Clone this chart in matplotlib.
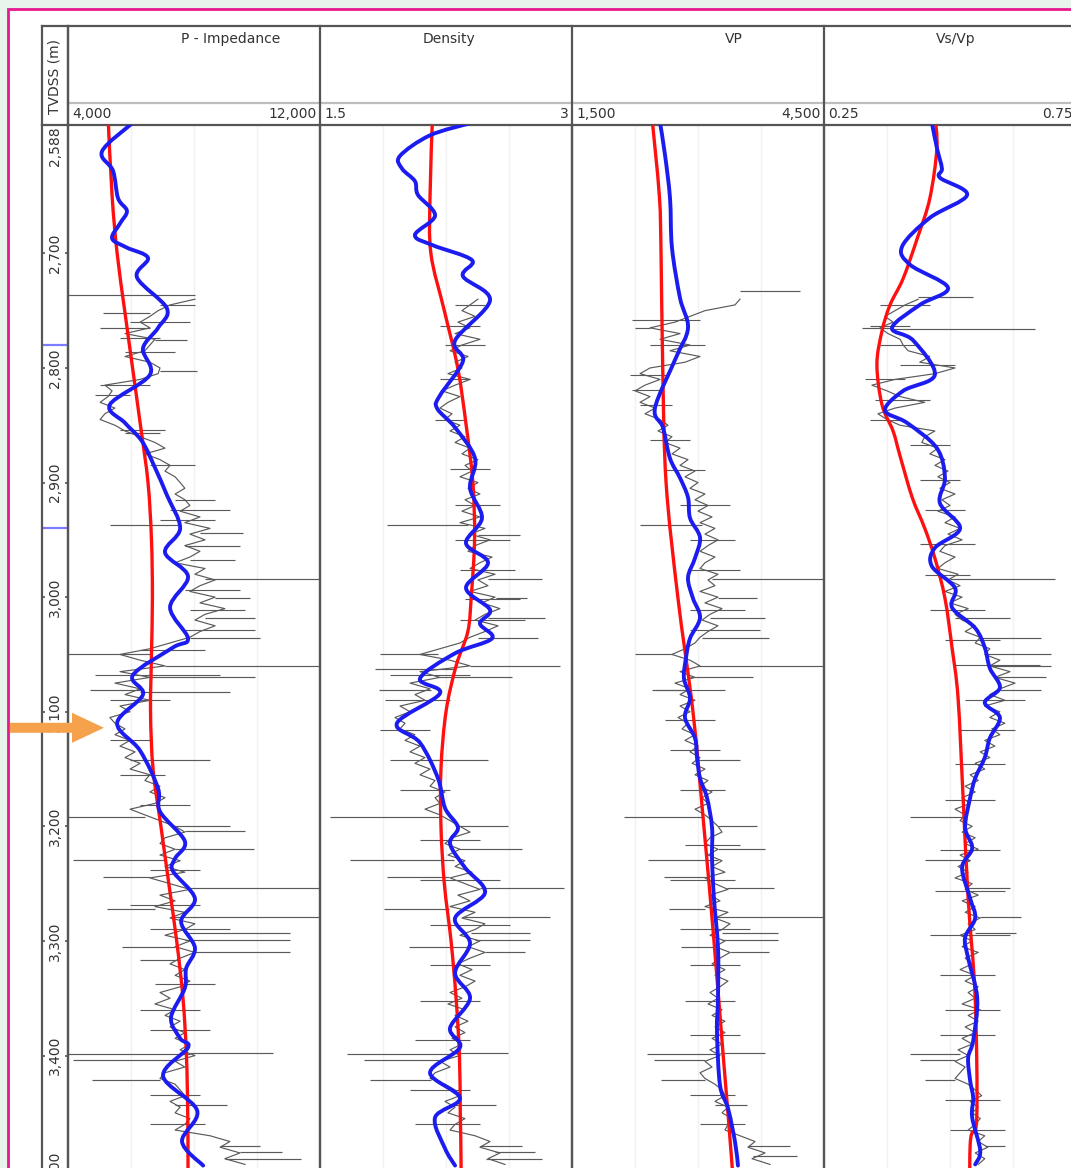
import numpy as np
import matplotlib
matplotlib.use("Agg")
import matplotlib.pyplot as plt
from matplotlib.patches import Rectangle, Polygon, PathPatch
from matplotlib.path import Path
from matplotlib.lines import Line2D

# ---------------- data ----------------
track_names = ["P - Impedance", "Density", "VP", "Vs/Vp"]
track_min = [4000, 1.5, 1500, 0.25]
track_max = [12000, 3.0, 4500, 0.75]
track_min_lbl = ["4,000", "1.5", "1,500", "0.25"]
track_max_lbl = ["12,000", "3", "4,500", "0.75"]
depth_ticks = [2700, 2800, 2900, 3000, 3100, 3200, 3300, 3400, 3500]
depth_tick_lbl = ["2,700", "2,800", "2,900", "3,000", "3,100", "3,200", "3,300", "3,400", "3,500"]
top_depth = 2588
marker_depths = [2780, 2940]
arrow_depth = 3114

gray_start, gray_step = 2740, 5

# P-impedance
pimp_gray = [8030,7240,6860,6600,6290,6600,5810,6760,6600,6440,5810,6600,
             6920,6860,6290,5170,5400,5270,5020,5490,5170,5020,5490,5810,
             6290,6760,7080,6440,6920,7240,7080,7400,7560,7710,7400,7710,
             7870,7560,8190,7710,8510,7870,8350,7710,8190,7870,7400,8350,
             8030,8670,8190,7870,8670,8190,8980,8350,8030,8670,8190,7870,
             7240,6600,5650,6290,7080,5650,6600,5490,6290,5810,6600,5650,
             5970,5330,5490,5810,5490,5970,5650,6130,5810,6290,5970,6600,
             6440,6920,6600,7080,6760,5970,6440,6920,7400,7710,7080,6920,
             7400,6920,7560,7080,7710,6600,7240,7870,6920,7400,6760,7710,
             7240,8030,7710,7080,7870,7400,8030,7560,7240,7710,7400,7870,
             7560,6920,7240,6760,7400,7080,7560,7240,7710,7400,7870,7560,
             8030,7400,7710,7080,6920,7400,7560,7710,7240,7560,7400,7870,
             7710,7400,8510,9140,8830,9460,8980,9620]
pimp_spk_d = [2736,2752,2765,2776,2803,2857,2937,2944,2955,2984,3001,3018,3036,3050,3060,3070,
              3081,3083,3142,3192,3200,3204,3220,3229,3244,3254,3272,3279,3293,3299,3305,3310,
              3317,3398,3399,3404,3421,3443,3479,3484,3490]
pimp_spk_b = [8030,6600,6600,6760,6920,5810,7560,8190,7710,8350,8670,8350,7870,6600,7080,6600,
              6290,6290,5970,6440,7400,7710,7400,7080,6600,7870,6760,7240,7710,7710,7400,8030,
              7560,7870,7870,7400,6920,7400,8830,9460,8980]
pimp_spk_t = [4000,5110,5020,7780,8100,6920,5330,9560,9460,12000,9780,9940,10100,4000,12000,9940,
              4700,9140,8510,4000,9140,9620,9900,4160,5110,12000,5250,12000,11050,11050,5730,11050,
              6290,10500,4000,4160,4760,9050,10100,10800,11400]
pimp_dash_d = [2745,2760,2774,2786,2815,2824,2854,2885,2915,2924,2933,2968,2994,3011,3029,
               3046,3068,3090,3125,3155,3181,3238,3269,3290,3338,3360,3378,3434,3460]
pimp_dash_l = [6920,5970,5650,5810,5020,4860,5650,6600,7400,7240,6920,7870,7710,7870,7710,
               6290,4860,5330,5330,5650,6290,6600,5970,6600,6760,6290,6600,6600,6600]
pimp_dash_r = [8030,7870,6920,7400,6600,5970,7080,8030,8670,9140,8670,9300,9460,9620,9940,
               8350,8830,7240,6600,7080,7870,8190,8190,9140,8670,8190,8510,8190,8350]
pimp_red_d = [2580,2650,2700,2750,2800,2850,2900,2950,3000,3050,3100,3150,3200,3250,3300,3350,3400,3450,3500,3580]
pimp_red_v = [5270,5400,5560,5800,6050,6300,6540,6650,6680,6650,6620,6700,6950,7200,7450,7650,7760,7800,7810,7810]
pimp_blue_d = [2586,2611,2628,2652,2663,2674,2687,2695,2704,2721,2748,2765,2783,2806,2832,2848,
               2864,2887,2911,2940,2961,2982,3009,3036,3044,3068,3085,3110,3134,3167,3187,3213,
               3228,3239,3263,3283,3306,3324,3341,3367,3385,3393,3418,3448,3475,3496]
pimp_blue_v = [6060,5080,5430,5590,5870,5650,5400,5870,6540,6190,7140,6860,6380,6600,5330,5810,
               6350,6760,7140,7560,7080,7810,7240,7810,7330,6060,6380,5560,6290,6860,6920,7710,
               7400,7330,8030,7590,8030,7750,7710,7270,7560,7810,7020,8100,7620,8290]

# Density
dens_gray = [2.440,2.393,2.345,2.423,2.321,2.393,2.304,2.452,2.345,2.274,2.381,2.304,
             2.345,2.262,2.393,2.304,2.226,2.333,2.262,2.214,2.286,2.244,2.333,2.274,
             2.363,2.304,2.393,2.345,2.440,2.363,2.405,2.333,2.440,2.381,2.452,2.363,
             2.423,2.345,2.452,2.333,2.482,2.393,2.512,2.423,2.381,2.524,2.452,2.393,
             2.542,2.440,2.500,2.393,2.542,2.464,2.571,2.482,2.423,2.560,2.482,2.393,
             2.333,2.214,2.095,2.274,2.393,2.095,2.214,2.036,2.155,2.065,2.125,1.976,
             2.036,1.946,2.006,1.976,2.065,2.006,2.095,2.036,2.125,2.065,2.155,2.095,
             2.185,2.155,2.244,2.185,2.214,2.125,2.214,2.274,2.333,2.393,2.286,2.244,
             2.333,2.262,2.363,2.304,2.405,2.274,2.363,2.452,2.321,2.393,2.274,2.423,
             2.345,2.482,2.423,2.333,2.452,2.381,2.482,2.393,2.321,2.405,2.333,2.423,
             2.363,2.274,2.345,2.262,2.363,2.304,2.381,2.304,2.363,2.286,2.345,2.274,
             2.333,2.214,2.274,2.185,2.155,2.244,2.304,2.333,2.244,2.304,2.262,2.363,
             2.304,2.274,2.423,2.512,2.452,2.571,2.500,2.601]
dens_spk_d = [2937,2946,2984,3001,3018,3036,3050,3060,3063,3070,3081,3142,3192,3200,3220,3229,
              3244,3254,3272,3279,3293,3299,3305,3310,3398,3399,3404,3421,3443,3479,3484,3490]
dens_spk_b = [2.38,2.44,2.50,2.55,2.50,2.44,2.20,2.39,2.30,2.21,2.16,2.15,2.21,2.33,2.33,2.30,
              2.27,2.45,2.27,2.36,2.40,2.42,2.38,2.48,2.30,2.30,2.21,2.16,2.27,2.45,2.54,2.49]
dens_spk_t = [1.90,2.69,2.82,2.73,2.84,2.80,1.86,2.93,1.83,2.64,1.85,2.50,1.56,2.62,2.70,1.68,
              1.90,2.95,1.88,2.87,2.75,2.75,2.03,2.72,2.62,1.66,1.76,1.80,2.55,2.70,2.78,2.82]
dens_dash_d = [2745,2763,2780,2810,2845,2888,2920,2950,2976,3002,3020,3068,3090,3116,3142,
               3168,3212,3247,3286,3321,3352,3386,3430,3460]
dens_dash_l = [2.304,2.214,2.244,2.214,2.185,2.274,2.304,2.304,2.333,2.363,2.333,1.917,1.887,1.857,1.917,
               1.976,2.095,2.095,2.155,2.155,2.095,2.065,2.036,2.065]
dens_dash_r = [2.482,2.452,2.482,2.393,2.363,2.512,2.571,2.631,2.661,2.690,2.720,2.393,2.274,2.155,2.214,
               2.274,2.452,2.571,2.631,2.512,2.452,2.393,2.393,2.452]
dens_red_d = [2580,2650,2700,2750,2800,2850,2900,2950,3000,3030,3060,3100,3150,3200,3250,3300,3350,3400,3450,3500,3580]
dens_red_v = [2.17,2.155,2.16,2.24,2.32,2.37,2.41,2.42,2.40,2.38,2.31,2.25,2.22,2.22,2.24,2.28,2.31,2.33,2.335,2.34,2.34]
dens_blue_d = [2586,2597,2615,2626,2637,2649,2667,2684,2693,2706,2720,2741,2776,2794,2824,2835,
               2852,2879,2905,2931,2953,2970,2992,3011,3023,3036,3049,3071,3084,3110,3127,3158,
               3184,3201,3215,3236,3258,3280,3302,3328,3350,3376,3393,3415,3437,3454,3481,3496]
dens_blue_v = [2.405,2.155,1.976,1.988,2.065,2.083,2.185,2.065,2.173,2.405,2.351,2.512,2.304,2.351,2.214,2.196,
               2.304,2.423,2.393,2.464,2.369,2.500,2.369,2.512,2.452,2.524,2.304,2.095,2.214,1.958,2.095,2.202,
               2.244,2.321,2.274,2.363,2.482,2.304,2.393,2.304,2.393,2.274,2.333,2.155,2.333,2.185,2.244,2.304]

# VP
vp_gray = [3500,3440,3083,2905,2726,2429,2786,2548,2905,2667,3024,2845,
           2429,2310,2548,2369,2250,2429,2310,2488,2369,2548,2643,2524,
           2690,2607,2786,2690,2881,2786,2964,2845,3000,2905,3083,2964,
           3119,3000,3167,3024,3202,3083,3238,3119,3024,3202,3083,3024,
           3238,3119,3202,3024,3238,3083,3286,3143,3048,3238,3119,3024,
           2964,2845,2690,2905,3024,2786,2964,2726,2905,2786,2964,2786,
           2905,2762,2881,2810,2964,2845,3000,2905,3024,2929,3083,2964,
           3119,3024,3167,3048,3119,2964,3083,3167,3238,3286,3143,3083,
           3238,3119,3286,3167,3321,3083,3202,3357,3143,3262,3083,3357,
           3202,3381,3286,3143,3321,3202,3381,3262,3167,3321,3202,3357,
           3262,3143,3238,3119,3286,3167,3321,3202,3321,3167,3286,3143,
           3262,3083,3167,3024,3083,3202,3286,3321,3202,3357,3286,3405,
           3357,3321,3500,3679,3595,3798,3643,3857]
vp_spk_d = [2733,2765,2937,2984,3001,3018,3036,3050,3060,3070,3081,3142,3192,3200,3220,3229,
            3244,3254,3272,3279,3293,3299,3305,3310,3398,3399,3404,3421,3443,3479,3488]
vp_spk_b = [3500,2430,3050,3170,3240,3140,3050,2690,3000,2900,2900,3000,3050,3240,3240,3240,
            3080,3350,3080,3200,3290,3290,3200,3380,3260,3260,3080,3080,3200,3600,3650]
vp_spk_t = [4214,2250,2310,4500,3700,3800,3850,2250,4500,3650,2450,3500,2120,3700,3800,2400,
            2600,3900,2650,4500,3950,3950,2800,3850,3800,2390,2480,2560,3580,4100,4180]
vp_dash_d = [2758,2780,2806,2819,2832,2863,2889,2920,2950,2976,3011,3029,3081,3107,3133,
             3168,3216,3247,3290,3321,3352,3382,3434,3460]
vp_dash_l = [2214,2429,2190,2214,2310,2429,2607,2786,2905,2905,2905,2905,2488,2607,2667,
             2786,2845,2667,2786,2905,2845,2905,2905,3024]
vp_dash_r = [3024,3083,2643,2548,2690,2905,3083,3381,3440,3500,3560,3738,3321,3202,3262,
             3321,3500,3440,3619,3500,3440,3500,3440,3560]
vp_red_d = [2580,2650,2700,2800,2900,3000,3100,3200,3300,3400,3500,3580]
vp_red_v = [2450,2540,2560,2580,2620,2760,2940,3070,3190,3300,3410,3480]
vp_blue_d = [2586,2614,2652,2695,2739,2765,2791,2835,2852,2879,2896,2913,2931,2948,2966,2983,
             3001,3018,3036,3053,3071,3088,3105,3123,3140,3158,3175,3201,3228,3263,3306,3350,
             3379,3426,3446,3475,3496]
vp_blue_v = [2548,2607,2667,2690,2786,2881,2738,2488,2583,2667,2786,2881,2905,3024,2964,2881,
             2940,3024,2905,2857,2833,2905,2845,2964,2988,3024,3107,3167,3167,3190,3238,3238,
             3226,3262,3357,3440,3476]

# Vs/Vp
vsvp_gray = [0.437,0.411,0.391,0.371,0.387,0.361,0.377,0.401,0.407,0.417,0.460,0.440,
             0.510,0.470,0.391,0.345,0.375,0.401,0.450,0.391,0.357,0.375,0.401,0.470,
             0.450,0.444,0.476,0.460,0.490,0.470,0.496,0.476,0.500,0.480,0.510,0.484,
             0.500,0.476,0.510,0.490,0.520,0.496,0.524,0.490,0.480,0.510,0.490,0.476,
             0.516,0.496,0.520,0.490,0.524,0.500,0.536,0.510,0.524,0.550,0.530,0.560,
             0.550,0.579,0.569,0.599,0.579,0.619,0.589,0.629,0.599,0.579,0.609,0.569,
             0.599,0.579,0.609,0.583,0.599,0.569,0.589,0.560,0.579,0.550,0.569,0.540,
             0.556,0.530,0.550,0.524,0.540,0.510,0.530,0.520,0.544,0.524,0.550,0.530,
             0.556,0.520,0.540,0.516,0.536,0.510,0.544,0.530,0.556,0.524,0.550,0.530,
             0.560,0.536,0.550,0.520,0.544,0.524,0.556,0.530,0.544,0.520,0.550,0.530,
             0.556,0.536,0.550,0.524,0.560,0.536,0.556,0.530,0.550,0.524,0.544,0.516,
             0.536,0.510,0.530,0.520,0.510,0.536,0.550,0.563,0.540,0.556,0.544,0.560,
             0.550,0.536,0.569,0.556,0.575,0.550,0.569,0.556]
vsvp_spk_d = [2738,2765,2766,2984,3018,3036,3050,3060,3070,3081,3192,3229,3254,3279,3293,3399,3404,3421,3479]
vsvp_spk_b = [0.437,0.38,0.38,0.50,0.51,0.56,0.57,0.58,0.59,0.60,0.53,0.54,0.53,0.56,0.55,0.52,0.51,0.51,0.57]
vsvp_spk_t = [0.546,0.325,0.669,0.708,0.62,0.68,0.70,0.70,0.69,0.68,0.42,0.45,0.62,0.64,0.63,0.42,0.44,0.45,0.61]
vsvp_dash_d = [2745,2763,2780,2797,2810,2828,2845,2867,2898,2924,2954,2981,3011,3037,3059,
               3090,3116,3146,3177,3221,3256,3295,3330,3360,3382,3439,3465]
vsvp_dash_l = [0.361,0.341,0.361,0.401,0.331,0.351,0.341,0.421,0.440,0.450,0.440,0.450,0.460,0.490,0.510,
               0.530,0.520,0.510,0.490,0.480,0.470,0.460,0.480,0.490,0.480,0.490,0.500]
vsvp_dash_r = [0.460,0.421,0.431,0.510,0.411,0.460,0.411,0.500,0.520,0.530,0.550,0.540,0.569,0.599,0.679,
               0.649,0.629,0.609,0.589,0.599,0.609,0.619,0.589,0.599,0.589,0.599,0.609]
vsvp_red_d = [2580,2608,2652,2687,2722,2745,2768,2797,2832,2855,2877,2913,2940,2966,3001,3044,3088,3175,3263,3350,3455,3478,3580]
vsvp_red_v = [0.470,0.474,0.460,0.435,0.407,0.381,0.365,0.355,0.365,0.387,0.401,0.425,0.450,0.470,0.490,0.504,0.516,0.526,0.536,0.550,0.553,0.540,0.540]
vsvp_blue_d = [2586,2608,2626,2634,2649,2669,2694,2710,2730,2745,2765,2776,2806,2820,2837,2848,
               2870,2896,2918,2940,2957,2973,2992,3009,3027,3044,3062,3079,3092,3105,3123,3140,
               3158,3175,3201,3219,3236,3263,3280,3297,3315,3350,3387,3402,3422,3437,3454,3483,3495]
vsvp_blue_v = [0.464,0.474,0.484,0.480,0.534,0.460,0.405,0.421,0.496,0.440,0.385,0.427,0.470,0.407,0.371,0.415,
               0.474,0.490,0.480,0.520,0.470,0.464,0.510,0.504,0.550,0.569,0.579,0.599,0.569,0.599,0.579,0.569,
               0.550,0.540,0.530,0.544,0.524,0.540,0.550,0.530,0.536,0.554,0.546,0.536,0.540,0.546,0.544,0.560,0.550]

grays = [pimp_gray, dens_gray, vp_gray, vsvp_gray]
spikes = [(pimp_spk_d, pimp_spk_b, pimp_spk_t), (dens_spk_d, dens_spk_b, dens_spk_t),
          (vp_spk_d, vp_spk_b, vp_spk_t), (vsvp_spk_d, vsvp_spk_b, vsvp_spk_t)]
dashes = [(pimp_dash_d, pimp_dash_l, pimp_dash_r), (dens_dash_d, dens_dash_l, dens_dash_r),
          (vp_dash_d, vp_dash_l, vp_dash_r), (vsvp_dash_d, vsvp_dash_l, vsvp_dash_r)]
reds = [(pimp_red_d, pimp_red_v), (dens_red_d, dens_red_v), (vp_red_d, vp_red_v), (vsvp_red_d, vsvp_red_v)]
blues = [(pimp_blue_d, pimp_blue_v), (dens_blue_d, dens_blue_v), (vp_blue_d, vp_blue_v), (vsvp_blue_d, vsvp_blue_v)]


def smooth_path(xs, ys):
    """Smooth Bezier path passing through every read point."""
    P = np.column_stack([np.asarray(xs, float), np.asarray(ys, float)])
    n = len(P)
    verts = [P[0]]
    codes = [Path.MOVETO]
    for i in range(n - 1):
        p0 = P[i - 1] if i > 0 else P[i]
        p1, p2 = P[i], P[i + 1]
        p3 = P[i + 2] if i + 2 < n else P[i + 1]
        verts += [p1 + (p2 - p0) / 6.0, p2 - (p3 - p1) / 6.0, p2]
        codes += [Path.CURVE4] * 3
    return Path(verts, codes)


# ---------------- layout (pixels) ----------------
W, H = 1071, 1168
fig = plt.figure(figsize=(W / 100, H / 100), dpi=100)
fig.patch.set_facecolor("#e8f5ec")


def fx(px):
    return px / W


def fy(py):
    return 1 - py / H


frame_col = "#555555"
text_col = "#333333"

fig.add_artist(Rectangle((fx(8), fy(1300)), fx(1200), fy(9) - fy(1300), transform=fig.transFigure,
                         facecolor="white", edgecolor="#e6198f", lw=2.0, zorder=0))

track_edges = [68, 320, 572, 824, 1076]
depth_left, depth_right = 42, 68
hdr_top, hdr_mid, ax_top, ax_bot = 26, 103, 125, 1250
px_per_m = 1.146
bottom_depth = top_depth + (ax_bot - ax_top) / px_per_m


def add_ax(l, r):
    ax = fig.add_axes([fx(l), fy(ax_bot), fx(r) - fx(l), fy(ax_top) - fy(ax_bot)])
    ax.set_ylim(bottom_depth, top_depth)
    ax.set_facecolor("none")
    for s in ["left", "right", "top"]:
        ax.spines[s].set_color(frame_col)
        ax.spines[s].set_linewidth(1.6)
    ax.spines["bottom"].set_visible(False)
    return ax


axd = add_ax(depth_left, depth_right)
axd.set_xlim(0, 1)
axd.set_xticks([])
axd.set_yticks(depth_ticks)
axd.tick_params(axis="y", which="both", direction="in", length=2.5, width=1.2, color=frame_col,
                left=True, right=True, labelleft=False, labelright=False)
for d, lbl in zip(depth_ticks, depth_tick_lbl):
    axd.text(0.5, d, lbl, rotation=90, ha="center", va="center", fontsize=10, color=text_col,
             transform=axd.get_yaxis_transform(), clip_on=False)
axd.text(0.5, top_depth + 1, "2,588", rotation=90, ha="center", va="top", fontsize=10, color=text_col)
for md in marker_depths:
    axd.axhline(md, color="#7c7cff", lw=1.6)

gray_col = "#5a5a5a"
for i in range(4):
    ax = add_ax(track_edges[i], track_edges[i + 1])
    ax.set_xlim(track_min[i], track_max[i])
    ax.set_xticks([])
    ax.set_yticks([])
    span = track_max[i] - track_min[i]
    for frac in (0.25, 0.5, 0.75):
        ax.axvline(track_min[i] + frac * span, color="#f1f1f1", lw=1.0, zorder=0)
    gv = np.array(grays[i])
    gd = gray_start + gray_step * np.arange(len(gv))
    ax.plot(gv, gd, color=gray_col, lw=0.85, zorder=2)
    sd, sb, st = spikes[i]
    ax.hlines(sd, sb, st, color=gray_col, lw=0.85, zorder=2)
    dd, dl, dr = dashes[i]
    ax.hlines(dd, dl, dr, color=gray_col, lw=0.8, zorder=2)
    ax.add_patch(PathPatch(smooth_path(reds[i][1], reds[i][0]), fill=False, edgecolor="#ff1010",
                           lw=2.4, zorder=3, capstyle="round", joinstyle="round"))
    ax.add_patch(PathPatch(smooth_path(blues[i][1], blues[i][0]), fill=False, edgecolor="#1c1cf0",
                           lw=2.8, zorder=4, capstyle="round", joinstyle="round"))


def hline(y, x0, x1, col=frame_col, lw=1.6):
    fig.add_artist(Line2D([fx(x0), fx(x1)], [fy(y), fy(y)], transform=fig.transFigure, color=col, lw=lw))


def vline(x, y0, y1, col=frame_col, lw=1.6):
    fig.add_artist(Line2D([fx(x), fx(x)], [fy(y0), fy(y1)], transform=fig.transFigure, color=col, lw=lw))


hline(hdr_top, depth_left, 1076)
hline(hdr_mid, 68, 1076, col="#bdbdbd", lw=1.6)
for x in [depth_left, depth_right] + track_edges:
    vline(x, hdr_top, ax_top)

name_x = [231, 449, 734, 956]
for i in range(4):
    fig.text(fx(name_x[i]), fy(39), track_names[i], ha="center", va="center", fontsize=10, color=text_col)
    fig.text(fx(track_edges[i] + 4), fy(114), track_min_lbl[i], ha="left", va="center", fontsize=10, color=text_col)
    fig.text(fx(track_edges[i + 1] - 3), fy(114), track_max_lbl[i], ha="right", va="center", fontsize=10, color=text_col)
fig.text(fx(55), fy(76), "TVDSS (m)", rotation=90, ha="center", va="center", fontsize=10, color=text_col)

ay = ax_top + (arrow_depth - top_depth) * px_per_m
arrow_pts = [(10, ay - 5), (72, ay - 5), (72, ay - 15), (104, ay), (72, ay + 15), (72, ay + 5), (10, ay + 5)]
fig.add_artist(Polygon([(fx(x), fy(y)) for x, y in arrow_pts], closed=True, transform=fig.transFigure,
                       facecolor="#f6a24c", edgecolor="none", zorder=10))

fig.savefig("out.png", dpi=100, facecolor=fig.get_facecolor())
